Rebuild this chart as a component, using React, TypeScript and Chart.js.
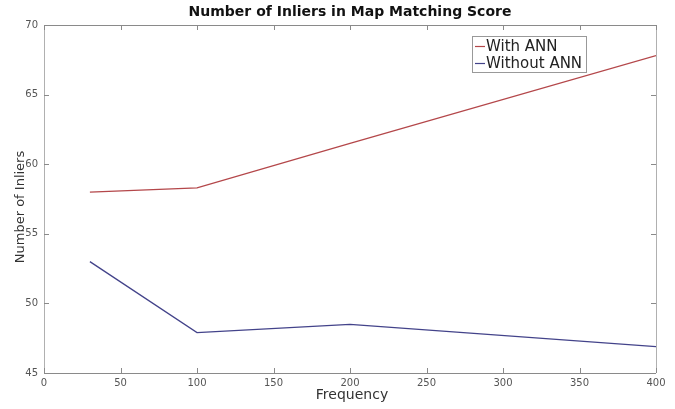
import React, { useEffect, useRef } from "react";
import { Chart, registerables } from "chart.js";

Chart.register(...registerables);

const frequency = [30, 100, 200, 400];
const withANN = [58.0, 58.3, 61.5, 67.8];
const withoutANN = [53.0, 47.9, 48.5, 46.9];
const seriesLabels = ["With ANN", "Without ANN"];
const xTicks = [0, 50, 100, 150, 200, 250, 300, 350, 400];
const yTicks = [45, 50, 55, 60, 65, 70];
const chartTitle = "Number of Inliers in Map Matching Score";
const xTitle = "Frequency";
const yTitle = "Number of Inliers";

const RED = "#b4474a";
const BLUE = "#43438a";
const FONT = "'DejaVu Sans', sans-serif";

const decorPlugin = {
  id: "decor",
  afterDraw(chart: any) {
    const ctx = chart.ctx;
    const { left, right, top, bottom } = chart.chartArea;
    const xs = chart.scales.x;
    const ys = chart.scales.y;
    ctx.save();
    // box
    ctx.lineWidth = 1;
    ctx.strokeStyle = "#8a8a8a";
    ctx.beginPath();
    ctx.moveTo(left, top + 0.5);
    ctx.lineTo(right, top + 0.5);
    ctx.moveTo(left, bottom + 0.5);
    ctx.lineTo(right, bottom + 0.5);
    ctx.stroke();
    ctx.strokeStyle = "#b0b0b0";
    ctx.beginPath();
    ctx.moveTo(left + 0.5, top);
    ctx.lineTo(left + 0.5, bottom);
    ctx.moveTo(right + 0.5, top);
    ctx.lineTo(right + 0.5, bottom);
    ctx.stroke();
    // inward ticks
    ctx.strokeStyle = "#8a8a8a";
    ctx.beginPath();
    const tl = 5;
    xTicks.forEach((v) => {
      const px = Math.round(xs.getPixelForValue(v)) + 0.5;
      ctx.moveTo(px, bottom);
      ctx.lineTo(px, bottom - tl);
      ctx.moveTo(px, top);
      ctx.lineTo(px, top + tl);
    });
    yTicks.forEach((v) => {
      const py = Math.round(ys.getPixelForValue(v)) + 0.5;
      ctx.moveTo(left, py);
      ctx.lineTo(left + tl, py);
      ctx.moveTo(right, py);
      ctx.lineTo(right - tl, py);
    });
    ctx.stroke();
    // title
    ctx.fillStyle = "#111";
    ctx.font = `bold 14px ${FONT}`;
    ctx.textAlign = "center";
    ctx.textBaseline = "middle";
    ctx.fillText(chartTitle, (left + right) / 2, 12);
    // axis titles
    ctx.fillStyle = "#333";
    ctx.font = `14px ${FONT}`;
    ctx.fillText(xTitle, (left + right) / 2 + 2, 395);
    ctx.save();
    ctx.translate(21, 207);
    ctx.rotate(-Math.PI / 2);
    ctx.font = `13px ${FONT}`;
    ctx.fillText(yTitle, 0, 0);
    ctx.restore();
    // legend
    const lx = 472, ly = 36, lw = 114, lh = 36;
    ctx.fillStyle = "#fff";
    ctx.fillRect(lx, ly, lw, lh);
    ctx.strokeStyle = "#999";
    ctx.strokeRect(lx + 0.5, ly + 0.5, lw, lh);
    const rows = [
      { c: RED, t: seriesLabels[0], y: ly + 10 },
      { c: BLUE, t: seriesLabels[1], y: ly + 27 },
    ];
    ctx.font = `15px ${FONT}`;
    ctx.textAlign = "left";
    rows.forEach((r) => {
      ctx.strokeStyle = r.c;
      ctx.lineWidth = 1.2;
      ctx.beginPath();
      ctx.moveTo(lx + 3, r.y + 0.5);
      ctx.lineTo(lx + 13, r.y + 0.5);
      ctx.stroke();
      ctx.fillStyle = "#222";
      ctx.fillText(r.t, lx + 14, r.y + 1);
    });
    ctx.restore();
  },
};

export default function App() {
  const ref = useRef<HTMLCanvasElement | null>(null);
  useEffect(() => {
    if (!ref.current) return;
    const chart = new Chart(ref.current, {
      type: "line",
      data: {
        datasets: [
          {
            label: seriesLabels[0],
            data: frequency.map((f, i) => ({ x: f, y: withANN[i] })),
            borderColor: RED,
            borderWidth: 1.3,
            pointRadius: 0,
            tension: 0,
          },
          {
            label: seriesLabels[1],
            data: frequency.map((f, i) => ({ x: f, y: withoutANN[i] })),
            borderColor: BLUE,
            borderWidth: 1.3,
            pointRadius: 0,
            tension: 0,
          },
        ],
      },
      options: {
        responsive: false,
        animation: false,
        layout: { padding: { left: 0, right: 19, top: 25, bottom: 0 } },
        plugins: {
          legend: { display: false },
          title: { display: false },
          tooltip: { enabled: false },
        },
        scales: {
          x: {
            type: "linear",
            min: 0,
            max: 400,
            afterFit: (s: any) => {
              s.height = 36;
            },
            afterBuildTicks: (s: any) => {
              s.ticks = xTicks.map((v) => ({ value: v }));
            },
            grid: { display: false, drawTicks: false },
            border: { display: false },
            ticks: {
              color: "#555",
              font: { family: FONT, size: 10 },
              padding: 4,
              maxRotation: 0,
            },
          },
          y: {
            type: "linear",
            min: 45,
            max: 70,
            afterFit: (s: any) => {
              s.width = 44;
            },
            afterBuildTicks: (s: any) => {
              s.ticks = yTicks.map((v) => ({ value: v }));
            },
            grid: { display: false, drawTicks: false },
            border: { display: false },
            ticks: {
              color: "#555",
              font: { family: FONT, size: 10 },
              padding: 6,
            },
          },
        },
      },
      plugins: [decorPlugin],
    });
    return () => chart.destroy();
  }, []);
  return (
    <div style={{ position: "fixed", left: 0, top: 0, width: 675, height: 409, background: "#fff" }}>
      <canvas ref={ref} width={675} height={409} />
    </div>
  );
}
